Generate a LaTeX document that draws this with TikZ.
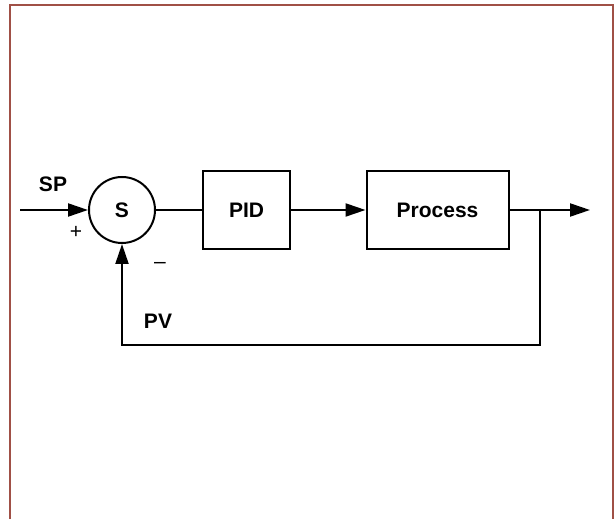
\documentclass[tikz,border=0pt]{standalone}
\usepackage{fontspec}
\setmainfont{Liberation Sans}
\usetikzlibrary{arrows.meta,positioning}

\begin{document}
\begin{tikzpicture}[
  x=1pt, y=1pt,
  >={Triangle[length=20pt,width=13pt]},
  every node/.style={font=\fontsize{21}{25}\selectfont\bfseries},
  line/.style={line width=2.1pt, black},
  block/.style={rectangle, draw, line width=2pt, minimum height=78pt, align=center},
  sumnode/.style={circle, draw, line width=2pt, minimum size=66pt, inner sep=0pt},
  lab/.style={inner sep=1pt},
  sign/.style={inner sep=1pt, font=\fontsize{21}{25}\selectfont}
]
  \useasboundingbox (0,0) rectangle (615,519);
  % frame
  \draw[line width=1.6pt, draw={rgb,255:red,160;green,80;blue,70}]
    (10,0) -- (10,514) -- (613,514) -- (613,0);

  \node[sumnode] (sum) at (122,309) {S};
  \node[block, minimum width=87pt] (pid) at (246.5,309) {PID};
  \node[block, minimum width=142pt] (proc) at (437.5,309) {Process};

  \coordinate (in) at (20,309);
  \coordinate (out) at (590,309);
  \coordinate (branch) at (540,309);
  \coordinate (fbr) at (540,174);
  \coordinate (fbl) at (122,174);

  \node[lab] (sp) at (53,335) {SP};
  \node[sign] (plus) at (76,287) {+};
  \node[sign] (minus) at (160,254) {–};
  \node[lab] (pv) at (158,198) {PV};

  \draw[line, ->] (in) -- (sum.west);
  \draw[line] (sum.east) -- (pid.west);
  \draw[line, ->] (pid.east) -- (proc.west);
  \draw[line, ->] (proc.east) -- (out);
  \draw[line, ->] (branch) -- (fbr) -- (fbl) -- (sum.south);
\end{tikzpicture}
\end{document}
